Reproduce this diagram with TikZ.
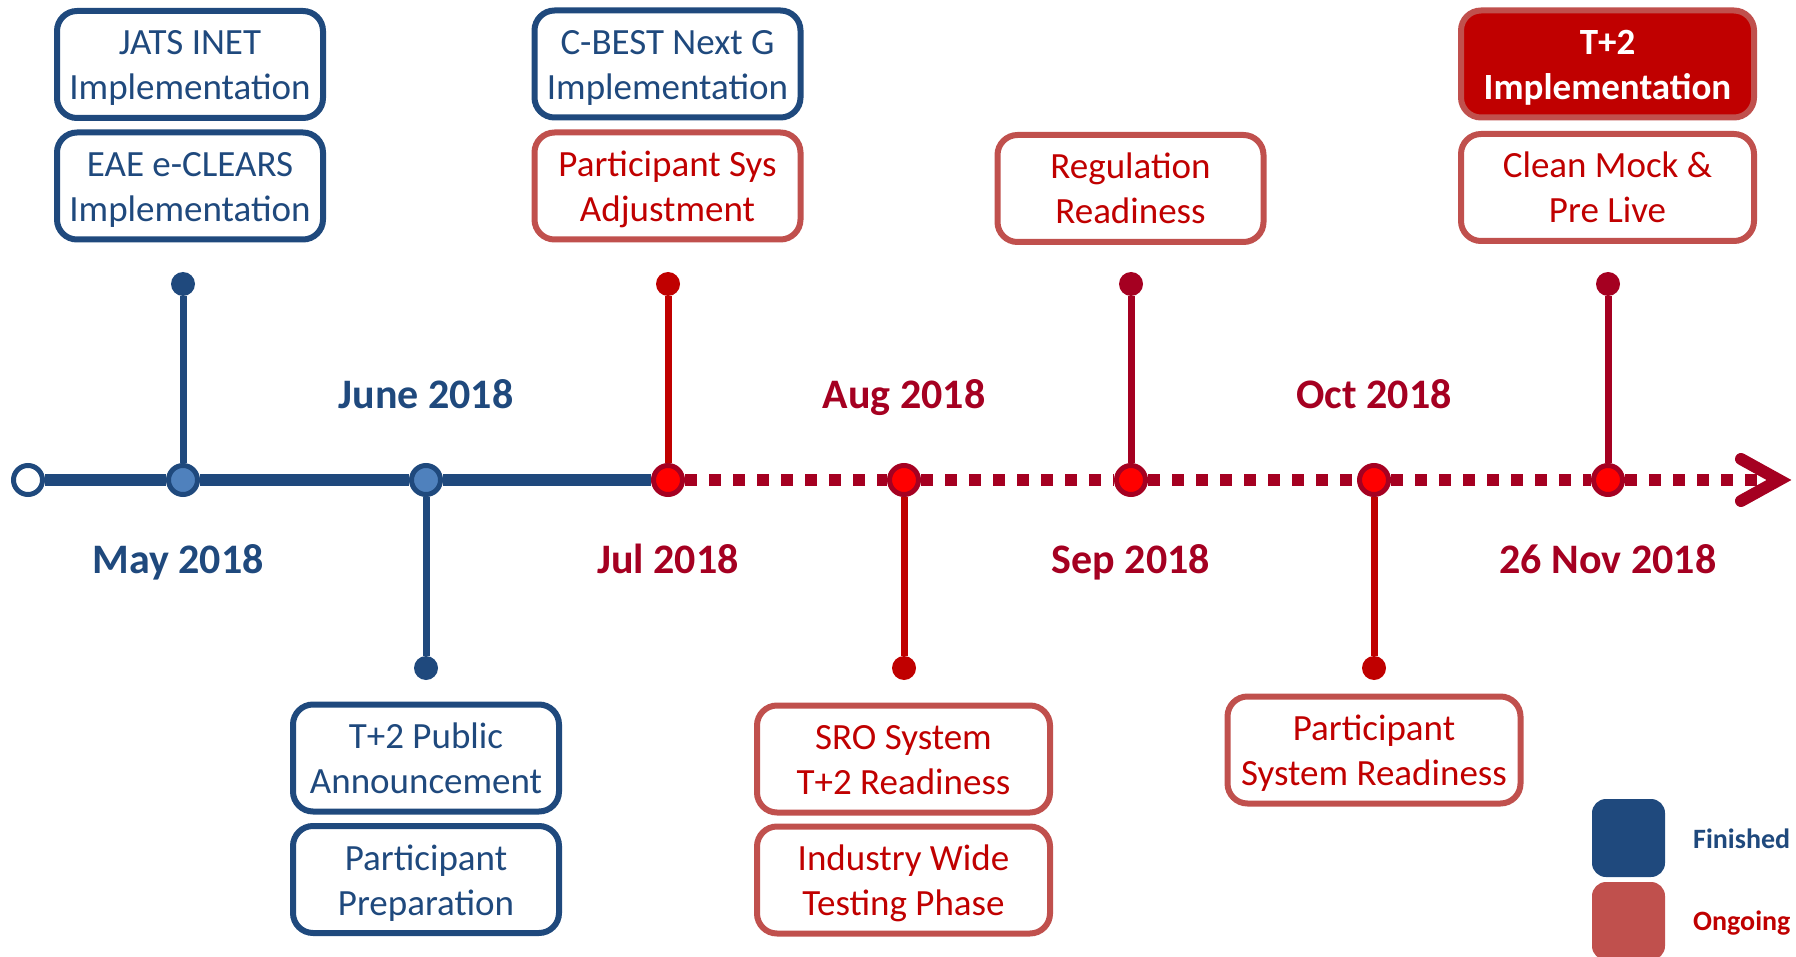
\documentclass[tikz,border=0pt]{standalone}
\usepackage{fontspec}
\setmainfont{Carlito}
\usetikzlibrary{positioning,calc}

\definecolor{finblue}{RGB}{31,73,125}
\definecolor{finfill}{RGB}{79,129,189}
\definecolor{ongred}{RGB}{192,0,0}
\definecolor{ongborder}{RGB}{192,80,77}
\definecolor{ongdark}{RGB}{165,0,33}
\definecolor{ongfill}{RGB}{255,0,0}

\newcommand{\boxfont}{\fontsize{37}{45}\selectfont}
\newcommand{\datefont}{\fontsize{42}{50}\selectfont\bfseries}
\newcommand{\keyfont}{\fontsize{28}{34}\selectfont\bfseries}

\tikzset{
  finbox/.style={draw=finblue, line width=6pt, rounded corners=20pt, text=finblue,
    align=center, inner sep=0pt, minimum width=266pt, minimum height=107pt,
    text height=75pt, text depth=4pt, font=\boxfont},
  ongbox/.style={finbox, draw=ongborder, text=ongred},
  widebox/.style={ongbox, minimum width=293pt},
  finmark/.style={circle, draw=finblue, fill=finfill, line width=5pt, minimum size=29pt, inner sep=0pt},
  startmark/.style={finmark, fill=white},
  ongmark/.style={finmark, draw=ongdark, fill=ongfill},
  enddot/.style={circle, fill=#1, minimum size=24pt, inner sep=0pt},
  stem/.style={draw=#1, line width=7pt},
  finlink/.style={draw=finblue, line width=12pt},
  onglink/.style={draw=ongdark, line width=12pt, dash pattern=on 12pt off 12pt},
  chevron/.style={draw=ongdark, line width=12pt, line cap=round, line join=miter},
  datelbl/.style={font=\datefont, inner sep=0pt, anchor=base},
  keysq/.style={rounded corners=14pt, minimum width=73pt, minimum height=78pt, inner sep=0pt},
  keylbl/.style={font=\keyfont, inner sep=0pt, anchor=base west}
}

\begin{document}
\begin{tikzpicture}[x=1pt, y=-1pt, on grid]
  \useasboundingbox (0,0) rectangle (1796,957);

  % timeline markers
  \node[startmark] (start) at (28,480) {};
  \node[finmark] (may) at (183,480) {};
  \node[finmark] (jun) at (426,480) {};
  \node[ongmark] (jul) at (668,480) {};
  \node[ongmark] (aug) at (904,480) {};
  \node[ongmark] (sep) at (1131,480) {};
  \node[ongmark] (oct) at (1374,480) {};
  \node[ongmark] (nov) at (1608,480) {};
  \coordinate (tip) at (1779,480);

  % stem ends
  \node[enddot=finblue] (maytop) [above=196pt of may] {};
  \node[enddot=finblue] (junbot) [below=188pt of jun] {};
  \node[enddot=ongred] (jultop) [above=196pt of jul] {};
  \node[enddot=ongred] (augbot) [below=188pt of aug] {};
  \node[enddot=ongdark] (septop) [above=196pt of sep] {};
  \node[enddot=ongred] (octbot) [below=188pt of oct] {};
  \node[enddot=ongdark] (novtop) [above=196pt of nov] {};

  % dates
  \node[datelbl, text=finblue] (maylbl) at (178,573) {May 2018};
  \node[datelbl, text=finblue] (junlbl) at (426,408) {June 2018};
  \node[datelbl, text=ongdark] (jullbl) at (668,573) {Jul 2018};
  \node[datelbl, text=ongdark] (auglbl) at (904,408) {Aug 2018};
  \node[datelbl, text=ongdark] (seplbl) at (1131,573) {Sep 2018};
  \node[datelbl, text=ongdark] (octlbl) at (1374,408) {Oct 2018};
  \node[datelbl, text=ongdark] (novlbl) at (1608,573) {26 Nov 2018};

  % milestone boxes
  \node[finbox] (eae) at (190,186) {EAE e-CLEARS\\Implementation};
  \node[finbox] (jats) [above=121.5pt of eae] {JATS INET\\Implementation};
  \node[finbox] (t2pub) at (426,758) {T+2 Public\\Announcement};
  \node[finbox] (prep) [below=121.5pt of t2pub] {Participant\\Preparation};
  \node[ongbox] (sysadj) at (667.5,186) {Participant Sys\\Adjustment};
  \node[finbox] (cbest) [above=122pt of sysadj] {C-BEST Next G\\Implementation};
  \node[widebox] (sro) at (903.5,759) {SRO System\\T+2 Readiness};
  \node[widebox] (testing) [below=121pt of sro] {Industry Wide\\Testing Phase};
  \node[ongbox] (regul) at (1130.5,188.5) {Regulation\\Readiness};
  \node[widebox] (sysready) at (1374,750) {Participant\\System Readiness};
  \node[widebox] (mock) at (1607.5,187.5) {Clean Mock \&\\Pre Live};
  \node[widebox, fill=ongred, text=white, font=\boxfont\bfseries] (t2impl) [above=123.5pt of mock] {T+2\\Implementation};

  % legend
  \node[keysq, fill=finblue] (keyfin) at (1628.5,838) {};
  \node[keysq, fill=ongborder] (keyong) at (1628.5,921) {};
  \node[keylbl, text=finblue] (finlbl) at (1693,848) {Finished};
  \node[keylbl, text=ongred] (onglbl) at (1693,930) {Ongoing};

  \path[finlink]
    (start) edge (may)
    (may) edge (jun)
    (jun) edge (jul);
  \path[onglink]
    (jul) edge (aug)
    (aug) edge (sep)
    (sep) edge (oct)
    (oct) edge (nov)
    (nov) edge (tip);
  \draw[chevron] ($(tip)+(-38,-21)$) -- (tip) -- ($(tip)+(-38,21)$);

  \path
    (may) edge[stem=finblue] (maytop)
    (jun) edge[stem=finblue] (junbot)
    (jul) edge[stem=ongred] (jultop)
    (aug) edge[stem=ongred] (augbot)
    (sep) edge[stem=ongdark] (septop)
    (oct) edge[stem=ongred] (octbot)
    (nov) edge[stem=ongdark] (novtop);
\end{tikzpicture}
\end{document}
